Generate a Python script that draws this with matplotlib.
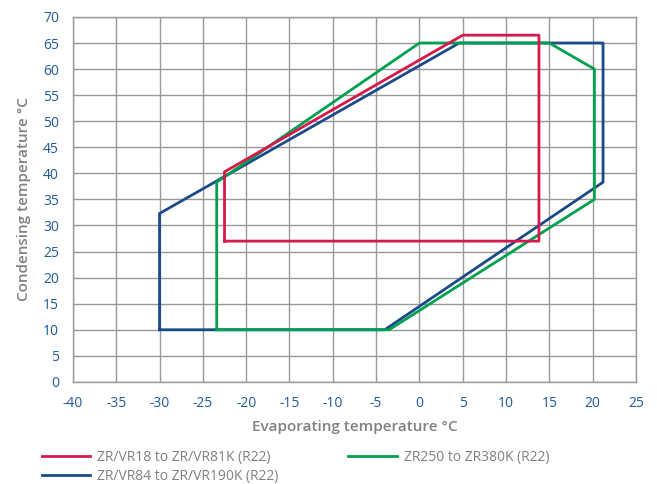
import numpy as np
import matplotlib
matplotlib.use("Agg")
import matplotlib.pyplot as plt

plt.rcParams["font.family"] = ["Open Sans", "DejaVu Sans"]
plt.rcParams["axes.unicode_minus"] = False

# envelope outlines (evaporating temp, condensing temp), closed polygons
red_x = [-22.5, -22.5, 5, 13.8, 13.8, -22.5]
red_y = [27, 40.3, 66.5, 66.5, 27, 27]

blue_x = [-30, -30, 4.6, 21.2, 21.2, -4, -30]
blue_y = [10, 32.3, 65, 65, 38.3, 10, 10]

green_x = [-23.4, -23.4, 0, 15, 20.2, 20.2, -3.5, -23.4]
green_y = [10, 38.3, 65, 65, 60, 35, 10, 10]

labels = [
    "ZR/VR18 to ZR/VR81K (R22)",
    "ZR/VR84 to ZR/VR190K (R22)",
    "ZR250 to ZR380K (R22)",
]
colors = ["#d6184b", "#1c4a88", "#00a04f"]

x_ticks = list(range(-40, 30, 5))
y_ticks = list(range(0, 75, 5))

fig = plt.figure(figsize=(6.57, 4.84), dpi=100)
ax = fig.add_axes([0.111, 0.211, 0.857, 0.754])

# blue underneath, green over it, red on top
l_blue, = ax.plot(blue_x, blue_y, color=colors[1], lw=2.0, label=labels[1])
l_green, = ax.plot(green_x, green_y, color=colors[2], lw=2.0, label=labels[2])
l_red, = ax.plot(red_x, red_y, color=colors[0], lw=2.0, label=labels[0])

ax.set_xlim(-40, 25)
ax.set_ylim(0, 70)
ax.set_xticks(x_ticks)
ax.set_yticks(y_ticks)
ax.grid(True, color="#999999", lw=1.0)
ax.set_axisbelow(True)
for s in ax.spines.values():
    s.set_color("#999999")
    s.set_linewidth(1.0)
ax.tick_params(length=0, pad=10, labelsize=10, labelcolor="#1f5a99")

ax.set_xlabel("Evaporating temperature °C", color="#808080", fontsize=11,
              fontweight="semibold", labelpad=7)
ax.set_ylabel("Condensing temperature °C", color="#808080", fontsize=11,
              fontweight="semibold", labelpad=9)

leg = fig.legend([l_red, l_blue, l_green], labels, ncol=2, loc="upper left",
                 bbox_to_anchor=(0.055, 0.082), frameon=False, fontsize=10,
                 handlelength=3.5, columnspacing=5.0, labelspacing=0.3,
                 handletextpad=0.5, borderaxespad=0)
for t in leg.get_texts():
    t.set_color("#808080")

fig.savefig("out.png", dpi=100)
